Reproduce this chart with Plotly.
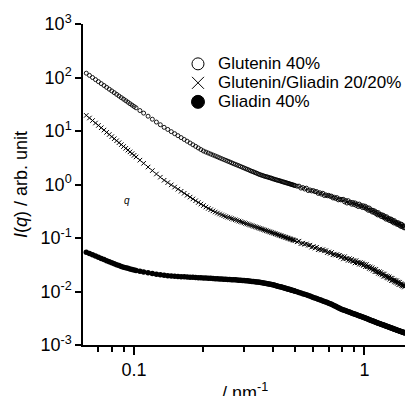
import plotly.graph_objects as go

# scattering vector q (nm^-1)
q = [0.062, 0.064, 0.066, 0.068, 0.070, 0.072, 0.074, 0.076, 0.078, 0.080,
     0.082, 0.084, 0.086, 0.088, 0.090, 0.092, 0.094, 0.096, 0.098, 0.100,
     0.102, 0.106, 0.110, 0.115, 0.120, 0.125, 0.130, 0.135, 0.140, 0.145, 0.150,
     0.155, 0.160, 0.165, 0.170, 0.175, 0.180, 0.185, 0.190, 0.195, 0.200,
     0.205, 0.210, 0.215, 0.220, 0.225, 0.230, 0.235, 0.240, 0.245, 0.250,
     0.255, 0.260, 0.265, 0.270, 0.275, 0.280, 0.285, 0.290, 0.295, 0.300,
     0.305, 0.310, 0.315, 0.320, 0.325, 0.330, 0.335, 0.340, 0.345, 0.350,
     0.355, 0.360, 0.365, 0.370, 0.375, 0.380, 0.385, 0.390, 0.395, 0.400,
     0.405, 0.410, 0.415, 0.420, 0.425, 0.430, 0.435, 0.440, 0.445, 0.450,
     0.455, 0.460, 0.465, 0.470, 0.475, 0.480, 0.485, 0.490, 0.495, 0.500,
     0.51, 0.52, 0.53, 0.54, 0.55, 0.56, 0.57, 0.58, 0.59, 0.60,
     0.61, 0.62, 0.63, 0.64, 0.65, 0.66, 0.67, 0.68, 0.69, 0.70,
     0.71, 0.72, 0.73, 0.74, 0.75, 0.76, 0.77, 0.78, 0.79, 0.80,
     0.81, 0.82, 0.83, 0.84, 0.85, 0.86, 0.87, 0.88, 0.89, 0.90,
     0.91, 0.92, 0.93, 0.94, 0.95, 0.96, 0.97, 0.98, 0.99, 1.00,
     1.01, 1.02, 1.03, 1.04, 1.05, 1.06, 1.07, 1.08, 1.09, 1.10,
     1.11, 1.12, 1.13, 1.14, 1.15, 1.16, 1.17, 1.18, 1.19, 1.20,
     1.21, 1.22, 1.23, 1.24, 1.25, 1.26, 1.27, 1.28, 1.29, 1.30,
     1.31, 1.32, 1.33, 1.34, 1.35, 1.36, 1.37, 1.38, 1.39, 1.40,
     1.41, 1.42, 1.43, 1.44, 1.45, 1.46, 1.47, 1.48, 1.49, 1.50]

glutenin_40 = [
    120.4, 109.5, 99.9, 91.3, 83.7, 76.9, 70.9, 65.4, 60.5, 56.1,
    52.1, 48.4, 45.1, 42.1, 39.4, 36.9, 34.6, 32.4, 30.5, 28.7,
    27.1, 24.1, 21.6, 18.9, 16.6, 14.7, 13.1, 11.7, 10.7, 9.73, 8.91,
    8.18, 7.53, 6.95, 6.44, 5.97, 5.54, 5.16, 4.82, 4.50, 4.23,
    4.04, 3.87, 3.71, 3.56, 3.42, 3.29, 3.16, 3.04, 2.93, 2.83,
    2.73, 2.64, 2.55, 2.46, 2.38, 2.31, 2.24, 2.17, 2.10, 2.04,
    1.98, 1.92, 1.87, 1.81, 1.76, 1.72, 1.67, 1.63, 1.585, 1.54,
    1.51, 1.48, 1.45, 1.42, 1.40, 1.38, 1.35, 1.33, 1.31, 1.28,
    1.26, 1.24, 1.22, 1.20, 1.185, 1.17, 1.149, 1.13, 1.115, 1.10,
    1.082, 1.07, 1.051, 1.04, 1.022, 1.01, 0.994, 0.981, 0.968, 0.954,
    0.930, 0.933, 0.857, 0.879, 0.824, 0.854, 0.770, 0.792, 0.758, 0.771,
    0.733, 0.739, 0.681, 0.702, 0.661, 0.686, 0.621, 0.640, 0.616, 0.628,
    0.599, 0.606, 0.560, 0.578, 0.546, 0.569, 0.516, 0.533, 0.515, 0.526,
    0.528, 0.474, 0.501, 0.450, 0.499, 0.455, 0.466, 0.428, 0.461, 0.424,
    0.453, 0.407, 0.431, 0.387, 0.431, 0.393, 0.403, 0.371, 0.400, 0.369,
    0.391, 0.349, 0.368, 0.329, 0.363, 0.328, 0.336, 0.306, 0.329, 0.301,
    0.319, 0.286, 0.301, 0.270, 0.298, 0.270, 0.276, 0.253, 0.272, 0.249,
    0.265, 0.238, 0.251, 0.225, 0.249, 0.226, 0.232, 0.213, 0.229, 0.210,
    0.224, 0.201, 0.212, 0.191, 0.211, 0.192, 0.197, 0.181, 0.194, 0.179,
    0.191, 0.172, 0.181, 0.164, 0.181, 0.165, 0.169, 0.156, 0.167, 0.154]

glutenin_gliadin_20_20 = [
    19.6, 17.5, 15.7, 14.1, 12.7, 11.5, 10.4, 9.43, 8.59, 7.84,
    7.18, 6.58, 6.05, 5.56, 5.13, 4.74, 4.39, 4.07, 3.78, 3.51,
    3.27, 2.85, 2.49, 2.12, 1.82, 1.57, 1.37, 1.20, 1.086, 0.984, 0.895,
    0.817, 0.747, 0.685, 0.630, 0.581, 0.537, 0.497, 0.461, 0.431, 0.404,
    0.379, 0.357, 0.338, 0.321, 0.306, 0.293, 0.281, 0.270, 0.261, 0.252,
    0.245, 0.238, 0.231, 0.225, 0.219, 0.213, 0.207, 0.202, 0.197, 0.192,
    0.187, 0.183, 0.178, 0.174, 0.170, 0.166, 0.1626, 0.159, 0.1555, 0.152,
    0.149, 0.146, 0.1429, 0.140, 0.1372, 0.1345, 0.1319, 0.1294, 0.1269, 0.1246,
    0.1223, 0.1201, 0.1179, 0.1158, 0.1137, 0.1117, 0.1098, 0.1079, 0.1061, 0.1044,
    0.1027, 0.1010, 0.0994, 0.0978, 0.0963, 0.0948, 0.0933, 0.0919, 0.0905, 0.0891,
    0.0848, 0.0874, 0.0784, 0.0802, 0.0764, 0.0775, 0.0732, 0.0735, 0.0674, 0.0692,
    0.0648, 0.0672, 0.0605, 0.0621, 0.0595, 0.0606, 0.0574, 0.0579, 0.0534, 0.0549,
    0.0516, 0.0537, 0.0485, 0.0500, 0.0480, 0.0490, 0.0466, 0.0471, 0.0436, 0.0449,
    0.0406, 0.0449, 0.0409, 0.0417, 0.0382, 0.0411, 0.0376, 0.0401, 0.0360, 0.0380,
    0.0341, 0.0378, 0.0344, 0.0353, 0.0323, 0.0348, 0.0320, 0.0341, 0.0307, 0.0324,
    0.0290, 0.0320, 0.0290, 0.0295, 0.0269, 0.0288, 0.0263, 0.0278, 0.0249, 0.0262,
    0.0234, 0.0259, 0.0234, 0.0239, 0.0218, 0.0234, 0.0213, 0.0227, 0.0204, 0.0214,
    0.0192, 0.0212, 0.0192, 0.0197, 0.0180, 0.0193, 0.0178, 0.0188, 0.0169, 0.0178,
    0.0160, 0.0177, 0.0161, 0.0164, 0.0151, 0.0162, 0.0148, 0.0159, 0.0142, 0.0150,
    0.0134, 0.0149, 0.0136, 0.0140, 0.0128, 0.0137, 0.0126, 0.0134, 0.0121, 0.0128]

gliadin_40 = [
    0.0544, 0.0514, 0.0486, 0.0461, 0.0437, 0.0415, 0.0395, 0.0376, 0.0358, 0.0343,
    0.0330, 0.0317, 0.0305, 0.0294, 0.0285, 0.0278, 0.0271, 0.0264, 0.0257, 0.0251,
    0.0247, 0.0238, 0.0231, 0.0223, 0.0216, 0.0210, 0.0206, 0.0202, 0.0198, 0.0195, 0.0193,
    0.0191, 0.0189, 0.0188, 0.0186, 0.0185, 0.0184, 0.0182, 0.0181, 0.0180, 0.0179,
    0.0178, 0.0177, 0.0176, 0.0175, 0.0174, 0.0173, 0.0172, 0.0171, 0.0170, 0.0169,
    0.0168, 0.0167, 0.0166, 0.0165, 0.0165, 0.0164, 0.0163, 0.0162, 0.0161, 0.0160,
    0.0159, 0.0158, 0.0157, 0.0156, 0.01545, 0.0153, 0.0152, 0.0151, 0.0150, 0.0149,
    0.01478, 0.0146, 0.01444, 0.0143, 0.01412, 0.0140, 0.01381, 0.0137, 0.01352, 0.0134,
    0.01316, 0.0130, 0.01280, 0.0126, 0.01245, 0.0123, 0.01211, 0.0120, 0.01180, 0.01164,
    0.01147, 0.01131, 0.01115, 0.01100, 0.01085, 0.01070, 0.01056, 0.01041, 0.01028, 0.01015,
    0.00987, 0.00961, 0.00935, 0.00911, 0.00888, 0.00866, 0.00843, 0.00820, 0.00797, 0.00776,
    0.00756, 0.00736, 0.00718, 0.00700, 0.00683, 0.00666, 0.00650, 0.00635, 0.00621, 0.00606,
    0.00592, 0.00575, 0.00559, 0.00543, 0.00528, 0.00513, 0.00499, 0.00486, 0.00473, 0.00462,
    0.00453, 0.00445, 0.00436, 0.00428, 0.00420, 0.00412, 0.00404, 0.00397, 0.00390, 0.00383,
    0.00376, 0.00370, 0.00363, 0.00357, 0.00351, 0.00345, 0.00340, 0.00334, 0.00329, 0.00324,
    0.00318, 0.00313, 0.00308, 0.00303, 0.00298, 0.00293, 0.00288, 0.00284, 0.00280, 0.00275,
    0.00271, 0.00267, 0.00263, 0.00259, 0.00256, 0.00252, 0.00249, 0.00245, 0.00242, 0.00239,
    0.00236, 0.00233, 0.00230, 0.00227, 0.00224, 0.00221, 0.00218, 0.00216, 0.00213, 0.00210,
    0.00208, 0.00205, 0.00203, 0.00200, 0.00198, 0.00196, 0.00193, 0.00191, 0.00189, 0.00187,
    0.00185, 0.00183, 0.00181, 0.00179, 0.00177, 0.00175, 0.00173, 0.00172, 0.00170, 0.00168]

series_names = ["Glutenin 40%", "Glutenin/Gliadin 20/20%", "Gliadin 40%"]

y_tickvals = [1e-3, 1e-2, 1e-1, 1e0, 1e1, 1e2, 1e3]
y_ticktext = ["10<sup>-3</sup>", "10<sup>-2</sup>", "10<sup>-1</sup>", "10<sup>0</sup>",
              "10<sup>1</sup>", "10<sup>2</sup>", "10<sup>3</sup>"]
x_tickvals = [0.1, 1]
x_ticktext = ["0.1", "1"]
x_minor = [0.07, 0.08, 0.09, 0.2, 0.3, 0.4, 0.5, 0.6, 0.7, 0.8, 0.9]

FONT = "Liberation Sans, Arial, sans-serif"

fig = go.Figure()

# data traces
fig.add_trace(go.Scatter(x=q, y=glutenin_40, mode="markers", showlegend=False,
                         marker=dict(symbol="circle-open", size=4, color="black",
                                     line=dict(width=0.9, color="black"))))
fig.add_trace(go.Scatter(x=q, y=glutenin_gliadin_20_20, mode="markers", showlegend=False,
                         marker=dict(symbol="x-thin-open", size=4.5, color="black",
                                     line=dict(width=1, color="black"))))
fig.add_trace(go.Scatter(x=q, y=gliadin_40, mode="markers", showlegend=False,
                         marker=dict(symbol="circle", size=5.5, color="black",
                                     line=dict(width=0))))

# legend entries (larger symbols, as in the reference legend)
for name, sym, sz in zip(series_names, ["circle-open", "x-thin-open", "circle"], [12, 12, 13]):
    fig.add_trace(go.Scatter(x=[None], y=[None], mode="markers",
                             name="<span style='font-size:17px'>%s</span>" % name,
                             marker=dict(symbol=sym, size=sz, color="black",
                                         line=dict(width=1, color="black"))))

fig.update_layout(
    width=406, height=396,
    margin=dict(l=83, r=1, t=24, b=51, autoexpand=False),
    paper_bgcolor="white", plot_bgcolor="white",
    font=dict(family=FONT, size=18, color="black"),
    legend=dict(x=0.295, y=0.921, xanchor="left", yanchor="top",
                bgcolor="rgba(0,0,0,0)", font=dict(size=12, family=FONT),
                itemsizing="trace"),
    annotations=[
        dict(x=-1.03, y=-0.308, xref="x", yref="y", text="<i>q</i>", showarrow=False,
             font=dict(size=10, family=FONT)),
        # x-axis title (sits partly below the visible area, as in the reference)
        dict(x=0.503, y=-0.146, xref="paper", yref="paper", xanchor="center", yanchor="middle",
             text="/ nm<sup>-1</sup>", showarrow=False, font=dict(size=18, family=FONT)),
    ],
)

fig.update_xaxes(type="log", range=[-1.2218, 0.1761], showgrid=False, zeroline=False,
                 showline=True, linecolor="black", linewidth=1.5,
                 ticks="outside", ticklen=8, tickwidth=1.5, tickcolor="black",
                 tickvals=x_tickvals, ticktext=x_ticktext, tickfont=dict(size=18),
                 minor=dict(tickvals=x_minor, ticks="outside", ticklen=5, tickwidth=1.5,
                            tickcolor="black", showgrid=False))
fig.update_yaxes(type="log", range=[-3, 3], showgrid=False, zeroline=False,
                 showline=True, linecolor="black", linewidth=1.5,
                 ticks="outside", ticklen=6, tickwidth=1.5, tickcolor="black",
                 tickvals=y_tickvals, ticktext=y_ticktext, tickfont=dict(size=18),
                 title=dict(text="<i>I</i>(<i>q</i>) / arb. unit", font=dict(size=18), standoff=8))

fig.write_html("out.html")
